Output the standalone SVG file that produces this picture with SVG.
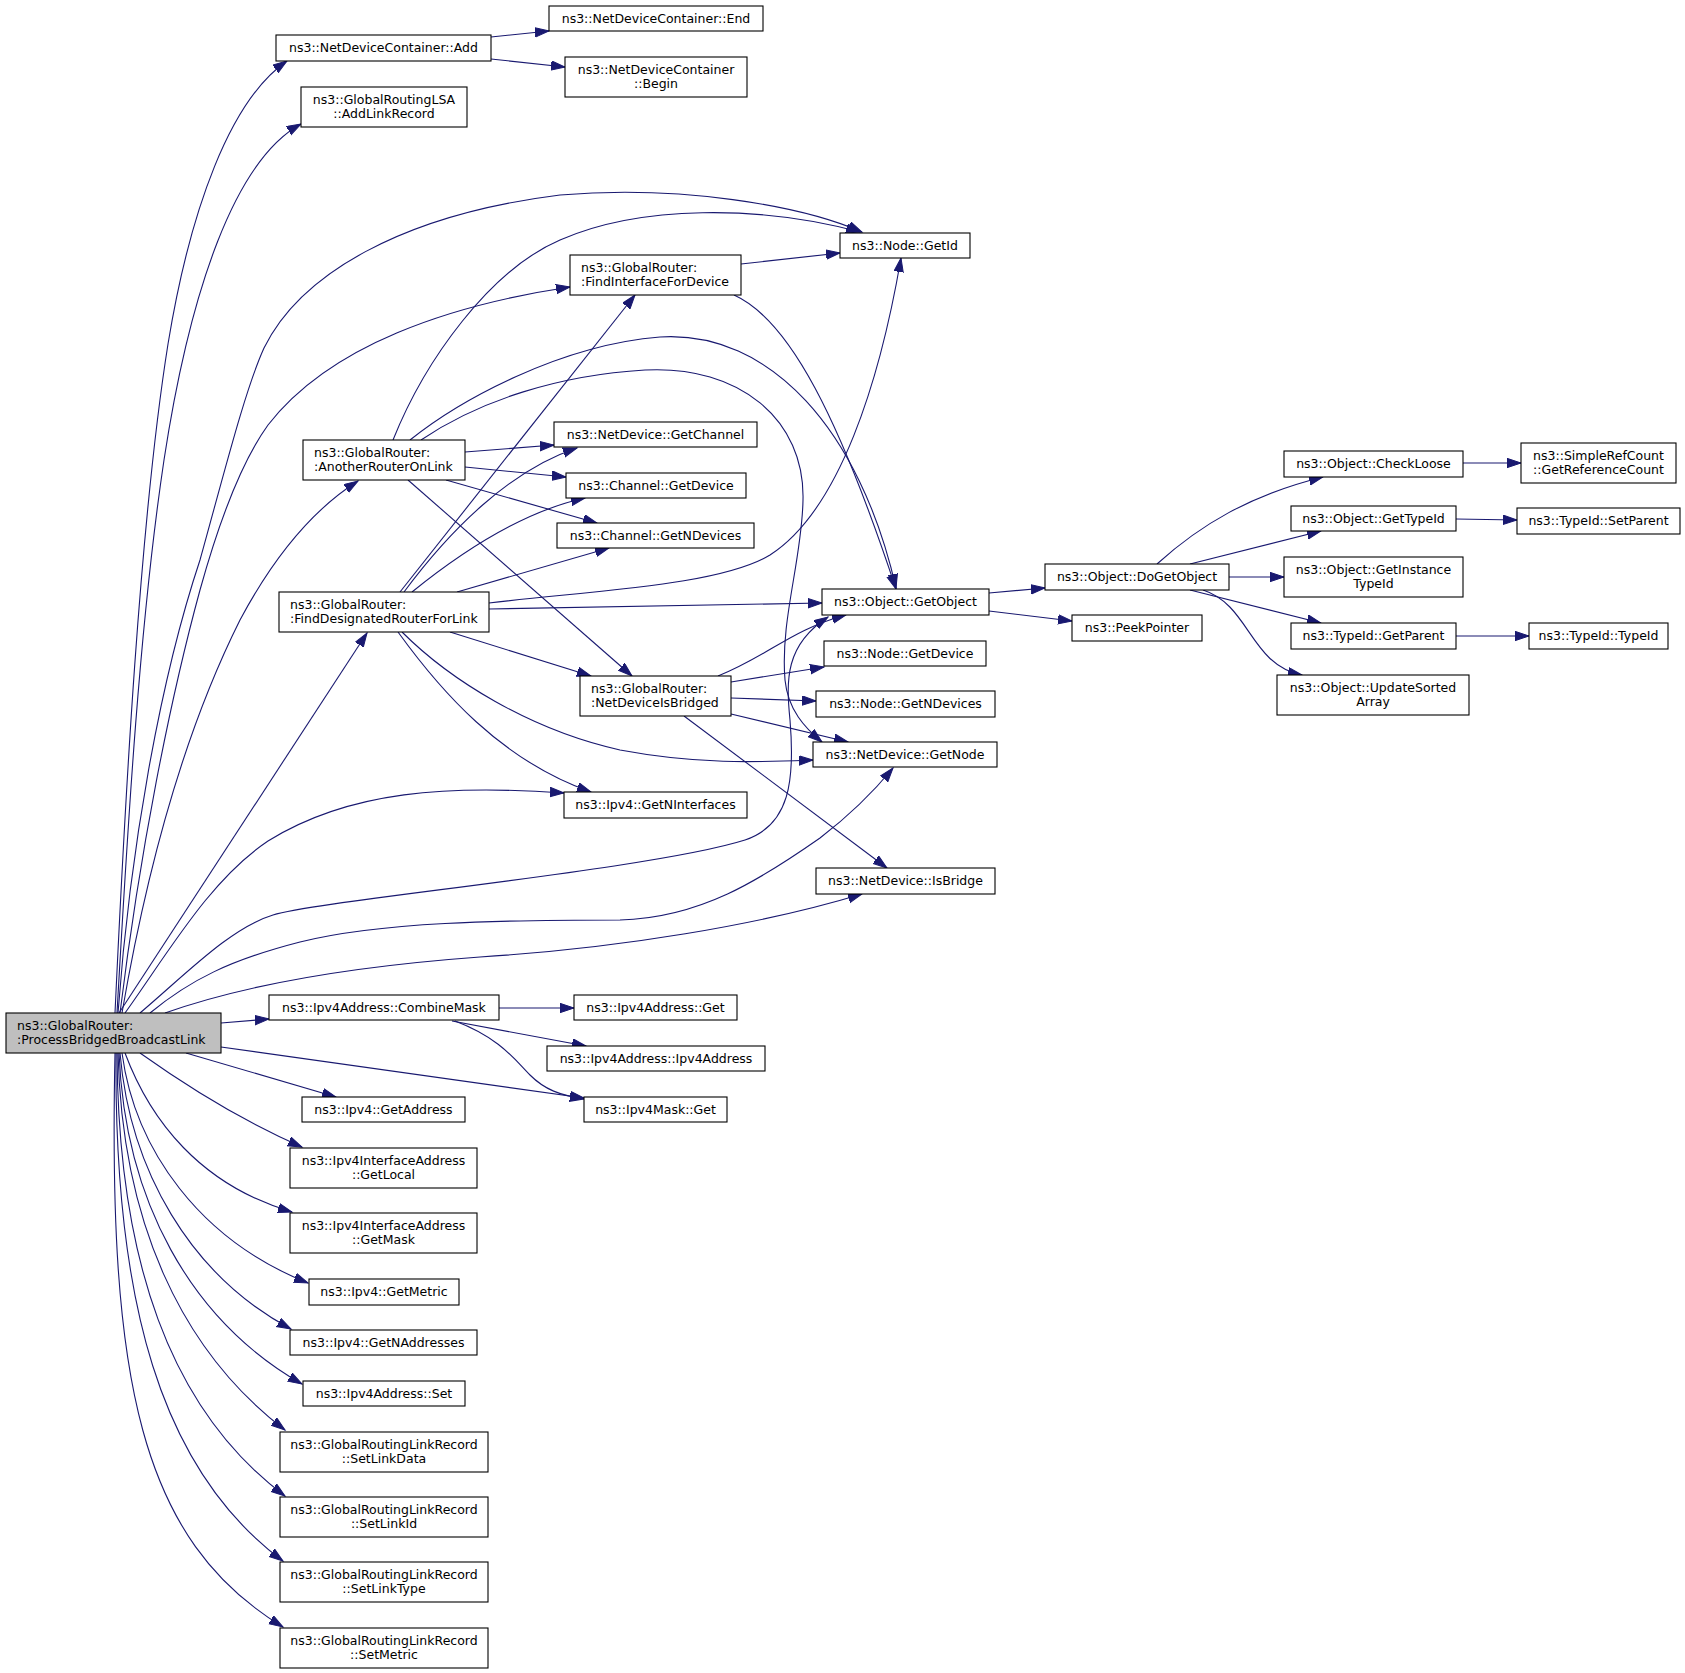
<svg xmlns="http://www.w3.org/2000/svg" width="1685" height="1673" viewBox="0 0 1685 1673">
<style>
.n rect{fill:#fff;stroke:#000;stroke-width:1.1}
.n.root rect{fill:#bfbfbf}
.n text{font-family:"DejaVu Sans","Liberation Sans",sans-serif;font-size:12.5px;fill:#000}
.c{text-anchor:middle}
.l{text-anchor:start}
#edges path{fill:none;stroke:#191970;stroke-width:1.1;marker-end:url(#ah)}
</style>
<defs>
<marker id="ah" markerUnits="userSpaceOnUse" markerWidth="16" markerHeight="12" refX="14" refY="5" orient="auto" viewBox="0 0 16 12">
<path d="M0,0.3 L14,5 L0,9.7 z" fill="#191970" stroke="#191970" stroke-width="1"/>
</marker>
</defs>
<rect width="1685" height="1673" fill="#fff"/>
<g id="edges">
<path d="M115,1013 C125,800 140,520 168,344 C190,210 230,100 287,61"/>
<path d="M117,1013 C128,820 140,620 164,460 C190,290 235,160 301,124"/>
<path d="M118,1013 C130,850 160,680 200,560 C225,470 245,390 264,348 C300,275 400,215 560,195 C680,185 800,205 862,232"/>
<path d="M120,1013 C140,850 170,700 200,590 C225,500 250,450 268,425 C330,345 450,305 570,287"/>
<path d="M122,1013 C150,850 190,720 240,620 C280,545 320,505 358,481"/>
<path d="M119,1013 L367,633"/>
<path d="M125,1013 C170,950 210,880 268,841 C350,790 450,785 564,793"/>
<path d="M140,1013 C185,975 230,928 273,915 C320,900 650,870 745,840 C790,825 795,780 790,720 C786,680 785,645 828,617"/>
<path d="M150,1013 C190,980 230,960 300,942 C380,922 500,920 620,920 C700,918 760,880 820,838 C850,815 875,790 893,768"/>
<path d="M165,1013 C230,990 330,968 480,957 C620,948 760,925 862,894"/>
<path d="M221,1023 L269,1019"/>
<path d="M221,1047 L584,1098"/>
<path d="M186,1053 L336,1097"/>
<path d="M140,1053 C185,1085 240,1120 302,1147"/>
<path d="M125,1053 C150,1120 200,1185 292,1212"/>
<path d="M122,1053 C135,1150 200,1240 308,1283"/>
<path d="M120,1053 C130,1170 190,1275 291,1329"/>
<path d="M119,1053 C125,1200 190,1320 302,1384"/>
<path d="M118,1053 C122,1220 180,1350 285,1430"/>
<path d="M117,1053 C118,1260 170,1410 285,1496"/>
<path d="M116,1053 C114,1300 160,1470 283,1561"/>
<path d="M115,1053 C108,1380 140,1540 283,1627"/>
<path d="M393,440 C425,360 490,270 560,240 C640,205 760,205 860,232"/>
<path d="M410,440 C460,400 560,345 660,337 C770,330 860,430 896,588"/>
<path d="M421,440 C480,400 560,375 645,370 C740,365 805,420 803,500 C802,560 780,620 785,680 C788,710 805,728 822,742"/>
<path d="M465,452 L554,445"/>
<path d="M465,467 L566,477"/>
<path d="M446,480 L597,523"/>
<path d="M408,480 L632,676"/>
<path d="M400,592 L635,295"/>
<path d="M404,592 C450,530 510,470 577,448"/>
<path d="M412,592 C470,545 530,510 585,498"/>
<path d="M457,592 L609,548"/>
<path d="M489,603 C600,590 720,585 770,555 C840,510 880,380 901,258"/>
<path d="M489,609 L822,603"/>
<path d="M450,632 L591,676"/>
<path d="M402,632 C450,680 530,730 620,750 C700,765 760,762 813,760"/>
<path d="M398,632 C440,690 500,760 591,792"/>
<path d="M741,264 L840,253"/>
<path d="M734,295 C790,320 840,420 896,589"/>
<path d="M718,676 C770,655 790,630 846,615"/>
<path d="M731,682 L824,667"/>
<path d="M731,698 L816,701"/>
<path d="M731,714 L848,742"/>
<path d="M684,716 L887,868"/>
<path d="M989,593 L1045,588"/>
<path d="M989,611 L1072,621"/>
<path d="M1157,564 C1200,525 1250,495 1323,477"/>
<path d="M1190,564 L1321,531"/>
<path d="M1229,577 L1284,577"/>
<path d="M1190,590 L1321,623"/>
<path d="M1203,590 C1250,605 1250,665 1302,675"/>
<path d="M1463,463 L1521,463"/>
<path d="M1456,519 L1517,520"/>
<path d="M1456,636 L1529,636"/>
<path d="M491,37 L549,31"/>
<path d="M491,59 L565,67"/>
<path d="M499,1008 L574,1008"/>
<path d="M452,1021 L586,1046"/>
<path d="M455,1021 C500,1038 515,1060 530,1075 C545,1090 560,1095 584,1099"/>
</g>
<g id="n_pbbl" class="n root"><rect x="6" y="1013" width="215" height="40"/><text class="l" x="17" y="1030">ns3::GlobalRouter:</text><text class="l" x="17" y="1044">:ProcessBridgedBroadcastLink</text></g>
<g id="n_add" class="n"><rect x="276" y="35" width="215" height="26"/><text class="c" x="383.5" y="52">ns3::NetDeviceContainer::Add</text></g>
<g id="n_end" class="n"><rect x="549" y="6" width="214" height="25"/><text class="c" x="656" y="22.5">ns3::NetDeviceContainer::End</text></g>
<g id="n_begin" class="n"><rect x="565" y="57" width="182" height="40"/><text class="c" x="656" y="74">ns3::NetDeviceContainer</text><text class="c" x="656" y="88">::Begin</text></g>
<g id="n_alr" class="n"><rect x="301" y="87" width="166" height="40"/><text class="c" x="384" y="104">ns3::GlobalRoutingLSA</text><text class="c" x="384" y="118">::AddLinkRecord</text></g>
<g id="n_getid" class="n"><rect x="840" y="233" width="130" height="25"/><text class="c" x="905" y="249.5">ns3::Node::GetId</text></g>
<g id="n_fid" class="n"><rect x="570" y="255" width="171" height="40"/><text class="l" x="581" y="272">ns3::GlobalRouter:</text><text class="l" x="581" y="286">:FindInterfaceForDevice</text></g>
<g id="n_arol" class="n"><rect x="303" y="440" width="162" height="40"/><text class="l" x="314" y="457">ns3::GlobalRouter:</text><text class="l" x="314" y="471">:AnotherRouterOnLink</text></g>
<g id="n_getchannel" class="n"><rect x="554" y="422" width="203" height="25"/><text class="c" x="655.5" y="438.5">ns3::NetDevice::GetChannel</text></g>
<g id="n_chgetdevice" class="n"><rect x="566" y="473" width="180" height="25"/><text class="c" x="656" y="489.5">ns3::Channel::GetDevice</text></g>
<g id="n_chgetndevices" class="n"><rect x="557" y="523" width="197" height="25"/><text class="c" x="655.5" y="539.5">ns3::Channel::GetNDevices</text></g>
<g id="n_fdrfl" class="n"><rect x="279" y="592" width="210" height="40"/><text class="l" x="290" y="609">ns3::GlobalRouter:</text><text class="l" x="290" y="623">:FindDesignatedRouterForLink</text></g>
<g id="n_getobject" class="n"><rect x="822" y="589" width="167" height="26"/><text class="c" x="905.5" y="606">ns3::Object::GetObject</text></g>
<g id="n_ndib" class="n"><rect x="580" y="676" width="151" height="40"/><text class="l" x="591" y="693">ns3::GlobalRouter:</text><text class="l" x="591" y="707">:NetDeviceIsBridged</text></g>
<g id="n_nodegetdevice" class="n"><rect x="824" y="641" width="162" height="25"/><text class="c" x="905" y="657.5">ns3::Node::GetDevice</text></g>
<g id="n_nodegetndevices" class="n"><rect x="816" y="691" width="179" height="26"/><text class="c" x="905.5" y="708">ns3::Node::GetNDevices</text></g>
<g id="n_getnode" class="n"><rect x="813" y="742" width="184" height="25"/><text class="c" x="905" y="758.5">ns3::NetDevice::GetNode</text></g>
<g id="n_getninterfaces" class="n"><rect x="564" y="792" width="183" height="26"/><text class="c" x="655.5" y="809">ns3::Ipv4::GetNInterfaces</text></g>
<g id="n_isbridge" class="n"><rect x="816" y="868" width="179" height="26"/><text class="c" x="905.5" y="885">ns3::NetDevice::IsBridge</text></g>
<g id="n_dogetobject" class="n"><rect x="1045" y="564" width="184" height="26"/><text class="c" x="1137" y="581">ns3::Object::DoGetObject</text></g>
<g id="n_peekpointer" class="n"><rect x="1072" y="615" width="130" height="26"/><text class="c" x="1137" y="632">ns3::PeekPointer</text></g>
<g id="n_checkloose" class="n"><rect x="1284" y="451" width="179" height="26"/><text class="c" x="1373.5" y="468">ns3::Object::CheckLoose</text></g>
<g id="n_getrefcount" class="n"><rect x="1521" y="443" width="155" height="40"/><text class="c" x="1598.5" y="460">ns3::SimpleRefCount</text><text class="c" x="1598.5" y="474">::GetReferenceCount</text></g>
<g id="n_gettypeid" class="n"><rect x="1291" y="506" width="165" height="25"/><text class="c" x="1373.5" y="522.5">ns3::Object::GetTypeId</text></g>
<g id="n_setparent" class="n"><rect x="1517" y="508" width="163" height="26"/><text class="c" x="1598.5" y="525">ns3::TypeId::SetParent</text></g>
<g id="n_getinstancetypeid" class="n"><rect x="1284" y="557" width="179" height="40"/><text class="c" x="1373.5" y="574">ns3::Object::GetInstance</text><text class="c" x="1373.5" y="588">TypeId</text></g>
<g id="n_getparent" class="n"><rect x="1291" y="623" width="165" height="26"/><text class="c" x="1373.5" y="640">ns3::TypeId::GetParent</text></g>
<g id="n_typeid" class="n"><rect x="1529" y="623" width="139" height="26"/><text class="c" x="1598.5" y="640">ns3::TypeId::TypeId</text></g>
<g id="n_updatesorted" class="n"><rect x="1277" y="675" width="192" height="40"/><text class="c" x="1373" y="692">ns3::Object::UpdateSorted</text><text class="c" x="1373" y="706">Array</text></g>
<g id="n_combinemask" class="n"><rect x="269" y="995" width="230" height="25"/><text class="c" x="384" y="1011.5">ns3::Ipv4Address::CombineMask</text></g>
<g id="n_ipv4addrget" class="n"><rect x="574" y="995" width="163" height="25"/><text class="c" x="655.5" y="1011.5">ns3::Ipv4Address::Get</text></g>
<g id="n_ipv4address" class="n"><rect x="547" y="1046" width="218" height="25"/><text class="c" x="656" y="1062.5">ns3::Ipv4Address::Ipv4Address</text></g>
<g id="n_maskget" class="n"><rect x="584" y="1097" width="143" height="25"/><text class="c" x="655.5" y="1113.5">ns3::Ipv4Mask::Get</text></g>
<g id="n_getaddress" class="n"><rect x="302" y="1097" width="163" height="25"/><text class="c" x="383.5" y="1113.5">ns3::Ipv4::GetAddress</text></g>
<g id="n_getlocal" class="n"><rect x="290" y="1148" width="187" height="40"/><text class="c" x="383.5" y="1165">ns3::Ipv4InterfaceAddress</text><text class="c" x="383.5" y="1179">::GetLocal</text></g>
<g id="n_getmask" class="n"><rect x="290" y="1213" width="187" height="40"/><text class="c" x="383.5" y="1230">ns3::Ipv4InterfaceAddress</text><text class="c" x="383.5" y="1244">::GetMask</text></g>
<g id="n_getmetric" class="n"><rect x="309" y="1279" width="150" height="26"/><text class="c" x="384" y="1296">ns3::Ipv4::GetMetric</text></g>
<g id="n_getnaddresses" class="n"><rect x="290" y="1330" width="187" height="25"/><text class="c" x="383.5" y="1346.5">ns3::Ipv4::GetNAddresses</text></g>
<g id="n_set" class="n"><rect x="303" y="1381" width="162" height="25"/><text class="c" x="384" y="1397.5">ns3::Ipv4Address::Set</text></g>
<g id="n_setlinkdata" class="n"><rect x="280" y="1432" width="208" height="40"/><text class="c" x="384" y="1449">ns3::GlobalRoutingLinkRecord</text><text class="c" x="384" y="1463">::SetLinkData</text></g>
<g id="n_setlinkid" class="n"><rect x="280" y="1497" width="208" height="40"/><text class="c" x="384" y="1514">ns3::GlobalRoutingLinkRecord</text><text class="c" x="384" y="1528">::SetLinkId</text></g>
<g id="n_setlinktype" class="n"><rect x="280" y="1562" width="208" height="40"/><text class="c" x="384" y="1579">ns3::GlobalRoutingLinkRecord</text><text class="c" x="384" y="1593">::SetLinkType</text></g>
<g id="n_setmetric" class="n"><rect x="280" y="1628" width="208" height="40"/><text class="c" x="384" y="1645">ns3::GlobalRoutingLinkRecord</text><text class="c" x="384" y="1659">::SetMetric</text></g>
</svg>
